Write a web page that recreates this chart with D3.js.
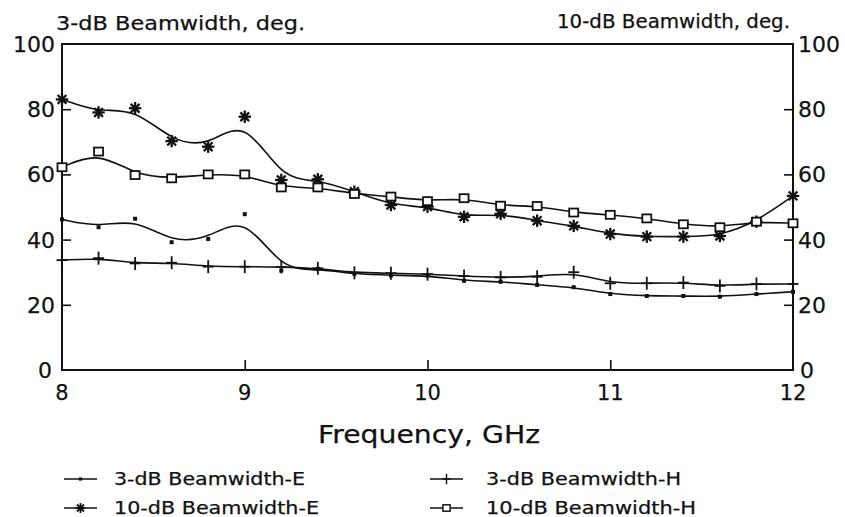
<!DOCTYPE html>
<html><head><meta charset="utf-8">
<script src="https://cdn.jsdelivr.net/npm/d3@7"></script>
<style>
html,body{margin:0;padding:0;background:#fff;}
text{font-family:"DejaVu Sans",sans-serif;fill:#111;stroke:#111;stroke-width:0.25;}
</style></head>
<body><svg id="c" width="845" height="517"></svg>
<script>
const freq = [8,8.2,8.4,8.6,8.8,9,9.2,9.4,9.6,9.8,10,10.2,10.4,10.6,10.8,11,11.2,11.4,11.6,11.8,12];
const bw3E  = [46.2,43.8,46.4,39.2,40.2,47.8,30.5,31,29.5,29,29,27.4,27.1,26.1,25.4,23.3,22.7,22.7,22.5,23.3,24];
const bw3H  = [33.7,34.3,32.7,32.9,31.7,31.7,31.6,31.2,29.8,29.7,29.4,28.8,28.4,28.6,30,26.6,26.6,26.8,25.8,26.4,26.4];
const bw10E = [83,79,80.3,70.2,68.5,77.7,58.3,58.5,54.7,50.6,50.1,47,47.9,45.8,44.2,41.7,40.9,40.9,41.1,45.5,53.4];
const bw10H = [62.2,67,59.8,58.8,60,60,56,56,54,53.2,51.8,52.7,50.4,50.3,48.3,47.6,46.5,44.7,43.8,45.5,45];
const xTicks = [8,9,10,11,12];
const yTicks = [0,20,40,60,80,100];
const seriesNames = ["3-dB Beamwidth-E","3-dB Beamwidth-H","10-dB Beamwidth-E","10-dB Beamwidth-H"];
const leftTitle = "3-dB Beamwidth, deg.";
const rightTitle = "10-dB Beamwidth, deg.";
const xTitle = "Frequency, GHz";

const svg = d3.select("#c");
const L=62, R=793, T=44, B=370;
const x = d3.scaleLinear().domain([8,12]).range([L,R]);
const y = d3.scaleLinear().domain([0,100]).range([B,T]);
const ink = "#111";

// frame
svg.append("rect").attr("x",L).attr("y",T).attr("width",R-L).attr("height",B-T)
  .attr("fill","none").attr("stroke",ink).attr("stroke-width",2);

// axes with inward ticks
const gL = svg.append("g").attr("transform",`translate(${L},0)`)
  .call(d3.axisRight(y).tickValues([20,40,60,80]).tickSize(9).tickFormat(""));
const gR = svg.append("g").attr("transform",`translate(${R},0)`)
  .call(d3.axisLeft(y).tickValues([20,40,60,80]).tickSize(9).tickFormat(""));
const gB = svg.append("g").attr("transform",`translate(0,${B})`)
  .call(d3.axisTop(x).tickValues([9,10,11]).tickSize(10).tickFormat(""));
[gL,gR,gB].forEach(g=>{g.select(".domain").remove();g.selectAll("line").attr("stroke",ink).attr("stroke-width",1.6);});

// tick labels
svg.selectAll(".yl").data(yTicks).join("text").attr("class","yl")
  .attr("x",d=>d===0?52:55).attr("y",d=>y(d)+8).attr("text-anchor","end")
  .attr("font-size",22).text(d=>d);
svg.selectAll(".yr").data(yTicks).join("text").attr("class","yr")
  .attr("x",d=>d===0?800:798).attr("y",d=>y(d)+8).attr("text-anchor","start")
  .attr("font-size",22).text(d=>d);
svg.selectAll(".xl").data(xTicks).join("text").attr("class","xl")
  .attr("x",d=>x(d)).attr("y",B+30).attr("text-anchor","middle")
  .attr("font-size",21).text(d=>d);

// titles
svg.append("text").attr("x",56).attr("y",30).attr("font-size",20)
  .attr("textLength",249).attr("lengthAdjust","spacingAndGlyphs").text(leftTitle);
svg.append("text").attr("x",557).attr("y",28).attr("font-size",20)
  .attr("textLength",233).attr("lengthAdjust","spacingAndGlyphs").text(rightTitle);
svg.append("text").attr("x",318).attr("y",443).attr("font-size",25)
  .attr("textLength",222).attr("lengthAdjust","spacingAndGlyphs").text(xTitle);

// lines
const line = d3.line().x(d=>x(d[0])).y(d=>y(d[1])).curve(d3.curveBasis);
const all = [bw3E,bw3H,bw10E,bw10H];
all.forEach(vals=>{
  svg.append("path").datum(freq.map((f,i)=>[f,vals[i]]))
    .attr("d",line).attr("fill","none").attr("stroke",ink).attr("stroke-width",1.6);
});

// marker drawing
function marker(g,type){
  if(type===0){ g.append("rect").attr("x",-2).attr("y",-2).attr("width",4).attr("height",4).attr("fill",ink); }
  else if(type===1){
    g.append("line").attr("x1",0).attr("x2",0).attr("y1",-6.5).attr("y2",6.5).attr("stroke",ink).attr("stroke-width",1.8);
    g.append("line").attr("x1",-5.5).attr("x2",5.5).attr("y1",0).attr("y2",0).attr("stroke",ink).attr("stroke-width",1.8);
  } else if(type===2){
    [0,45,90,135].forEach(a=>{
      const r=6.2, c=Math.cos(a*Math.PI/180)*r, s=Math.sin(a*Math.PI/180)*r;
      g.append("line").attr("x1",-c).attr("y1",-s).attr("x2",c).attr("y2",s).attr("stroke",ink).attr("stroke-width",2.3);
    });
  } else {
    g.append("rect").attr("x",-4.5).attr("y",-4).attr("width",9).attr("height",8).attr("fill","#fff").attr("stroke",ink).attr("stroke-width",1.8);
  }
}
all.forEach((vals,k)=>{
  freq.forEach((f,i)=>{
    marker(svg.append("g").attr("transform",`translate(${x(f)},${y(vals[i])})`),k);
  });
});

// legend
const legPos = [[64,479],[430,479],[64,508],[430,508]];
seriesNames.forEach((n,k)=>{
  const [lx,ly]=legPos[k];
  svg.append("line").attr("x1",lx).attr("x2",lx+33).attr("y1",ly).attr("y2",ly).attr("stroke",ink).attr("stroke-width",1.6);
  const mg = svg.append("g").attr("transform",`translate(${lx+16.5},${ly}) scale(0.8)`);
  marker(mg,k);
  const tw = [191,195,205,210][k];
  svg.append("text").attr("x",lx+(k%2===0?50:56)).attr("y",ly+6).attr("font-size",17)
    .attr("textLength",tw).attr("lengthAdjust","spacingAndGlyphs").text(n);
});
</script></body></html>
